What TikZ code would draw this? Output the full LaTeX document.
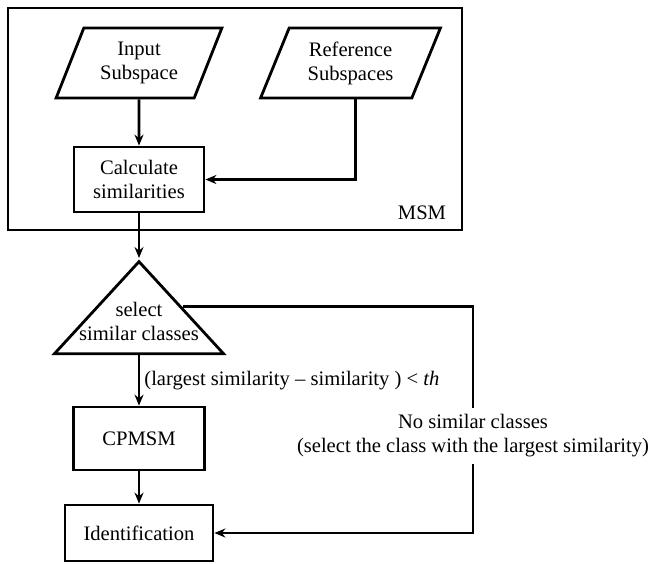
\documentclass[tikz,border=0pt]{standalone}
\usepackage{fontspec}
\setmainfont{Liberation Serif}
\usetikzlibrary{arrows.meta,shapes.geometric,positioning,calc}

\begin{document}
\begin{tikzpicture}[x=0.5pt, y=-0.5pt, > = {Stealth[length=5.5pt, width=4.5pt]}, line width=1.4pt,
                    font=\fontsize{10.3}{12}\selectfont]
    \tikzstyle{bloco}=[rectangle, draw, align=center, inner sep=0pt]
    \tikzstyle{dados}=[trapezium, draw, trapezium left angle=65, trapezium right angle=115,
                       trapezium stretches=true, minimum height=35pt, align=center, inner sep=0pt]
    \tikzstyle{decisao}=[isosceles triangle, shape border rotate=90, isosceles triangle stretches,
                         draw, minimum width=84.5pt, minimum height=46pt, inner sep=0pt]

    \useasboundingbox (0,0) rectangle (651,563);

    % Nós
    \node[bloco, minimum width=227pt, minimum height=111pt] (msm) at (235,119) {};
    \node (rotulo) at (422,213) {MSM};
    \node[dados, minimum width=83pt] (input) at (139,63) {Input\\Subspace};
    \node[dados, minimum width=90.5pt] (ref) at (350.5,63) {Reference\\Subspaces};
    \node[bloco, minimum width=65pt, minimum height=32.5pt] (calc) at (139,179.5) {Calculate\\similarities};
    \node[decisao, anchor=apex] (sel) at (139,258) {};
    \node[align=center] (seltexto) at (139,321) {select\\similar classes};
    \node[bloco, minimum width=65.5pt, minimum height=31.5pt] (cpmsm) at (139,438.5) {CPMSM};
    \node[bloco, minimum width=74pt, minimum height=28pt] (ident) at (139,533) {Identification};
    \coordinate (canto) at (473,304);
    \coordinate (saida) at ($(sel.apex)!0.5!(sel.right corner)$);

    % Arestas
    \draw[->] (input) -- (calc);
    \draw[->] ([xshift=2.5pt]ref.south) |- (calc.east);
    \draw[->] (calc) -- (sel.apex);
    \draw[->] ($(sel.left corner)!0.5!(sel.right corner)$) -- node[right, inner sep=2pt] {(largest similarity – similarity ) < \textit{th}} (cpmsm);
    \draw[->] (cpmsm) -- (ident);
    \draw[->] (saida) -- (saida -| canto)
        |- node[pos=0.285, fill=white, align=center] {No similar classes\\(select the class with the largest similarity)} (ident.east);
\end{tikzpicture}
\end{document}
